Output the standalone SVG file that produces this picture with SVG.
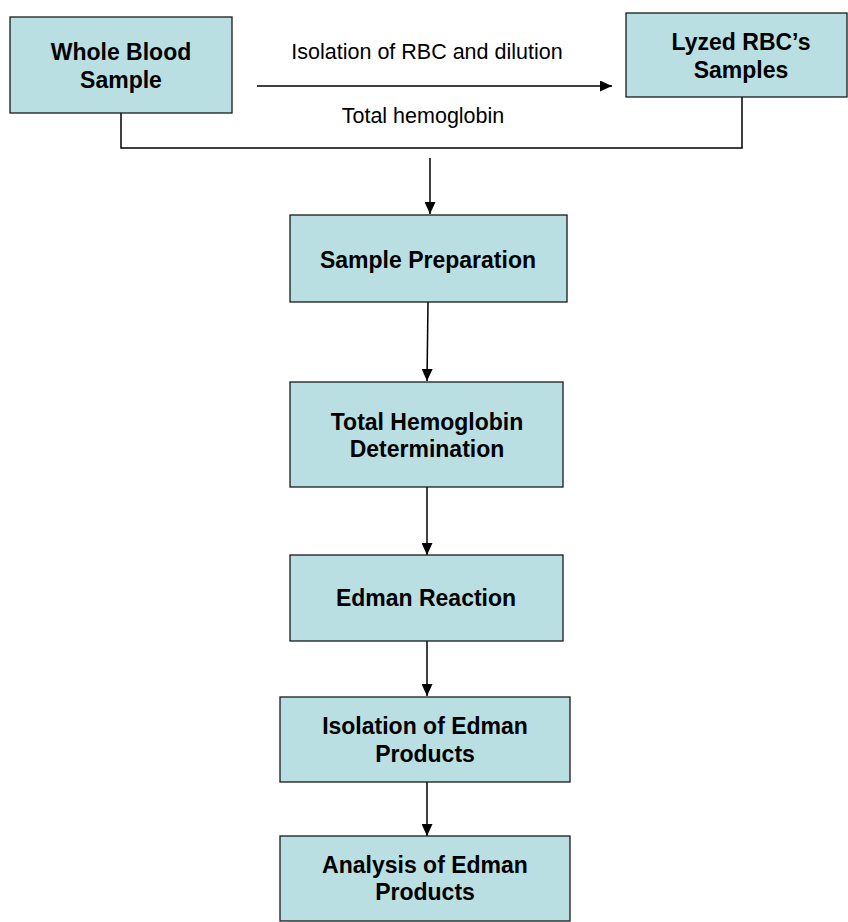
<svg xmlns="http://www.w3.org/2000/svg" width="848" height="922" viewBox="0 0 848 922">
<defs>
<marker id="ah" viewBox="0 0 12 11" refX="12" refY="5.5" markerWidth="12" markerHeight="11" markerUnits="userSpaceOnUse" orient="auto">
<path d="M0,0 L12,5.5 L0,11 z" fill="#000"/>
</marker>
<style>
.box{fill:#b9dfe2;stroke:#1a1a1a;stroke-width:1.3}
.t{font-family:"Liberation Sans",Arial,sans-serif;font-weight:bold;font-size:23px;fill:#000;text-anchor:middle}
.lbl{font-family:"Liberation Sans",Arial,sans-serif;font-size:21.5px;fill:#000;text-anchor:middle}
.c{fill:none;stroke:#000;stroke-width:1.5}
</style>
</defs>
<rect width="848" height="922" fill="#fff"/>
<g id="connectors">
<path class="c" d="M121,113 V148 H742 V97"/>
<line class="c" x1="257" y1="86" x2="612" y2="86" marker-end="url(#ah)"/>
<line class="c" x1="430" y1="158" x2="430" y2="214" marker-end="url(#ah)"/>
<line class="c" x1="428" y1="302" x2="427" y2="381" marker-end="url(#ah)"/>
<line class="c" x1="427" y1="487" x2="427" y2="555" marker-end="url(#ah)"/>
<line class="c" x1="427" y1="641" x2="427" y2="696" marker-end="url(#ah)"/>
<line class="c" x1="427" y1="782" x2="427" y2="836" marker-end="url(#ah)"/>
<text class="lbl" x="427" y="59">Isolation of RBC and dilution</text>
<text class="lbl" x="423" y="123">Total hemoglobin</text>
</g>
<g id="whole-blood">
<rect class="box" x="10" y="17" width="222" height="96"/>
<text class="t" x="121" y="60">Whole Blood</text>
<text class="t" x="121" y="88">Sample</text>
</g>
<g id="lyzed">
<rect class="box" x="626" y="13" width="221" height="84"/>
<text class="t" x="741" y="50">Lyzed RBC’s</text>
<text class="t" x="741" y="78">Samples</text>
</g>
<g id="sample-prep">
<rect class="box" x="290" y="215" width="277" height="87"/>
<text class="t" x="428" y="268">Sample Preparation</text>
</g>
<g id="total-hb">
<rect class="box" x="290" y="382" width="273" height="105"/>
<text class="t" x="427" y="430">Total Hemoglobin</text>
<text class="t" x="427" y="457">Determination</text>
</g>
<g id="edman">
<rect class="box" x="290" y="555" width="273" height="86"/>
<text class="t" x="426" y="606">Edman Reaction</text>
</g>
<g id="isolation">
<rect class="box" x="280" y="697" width="290" height="85"/>
<text class="t" x="425" y="734">Isolation of Edman</text>
<text class="t" x="425" y="762">Products</text>
</g>
<g id="analysis">
<rect class="box" x="280" y="836" width="290" height="85"/>
<text class="t" x="425" y="873">Analysis of Edman</text>
<text class="t" x="425" y="900">Products</text>
</g>
</svg>
